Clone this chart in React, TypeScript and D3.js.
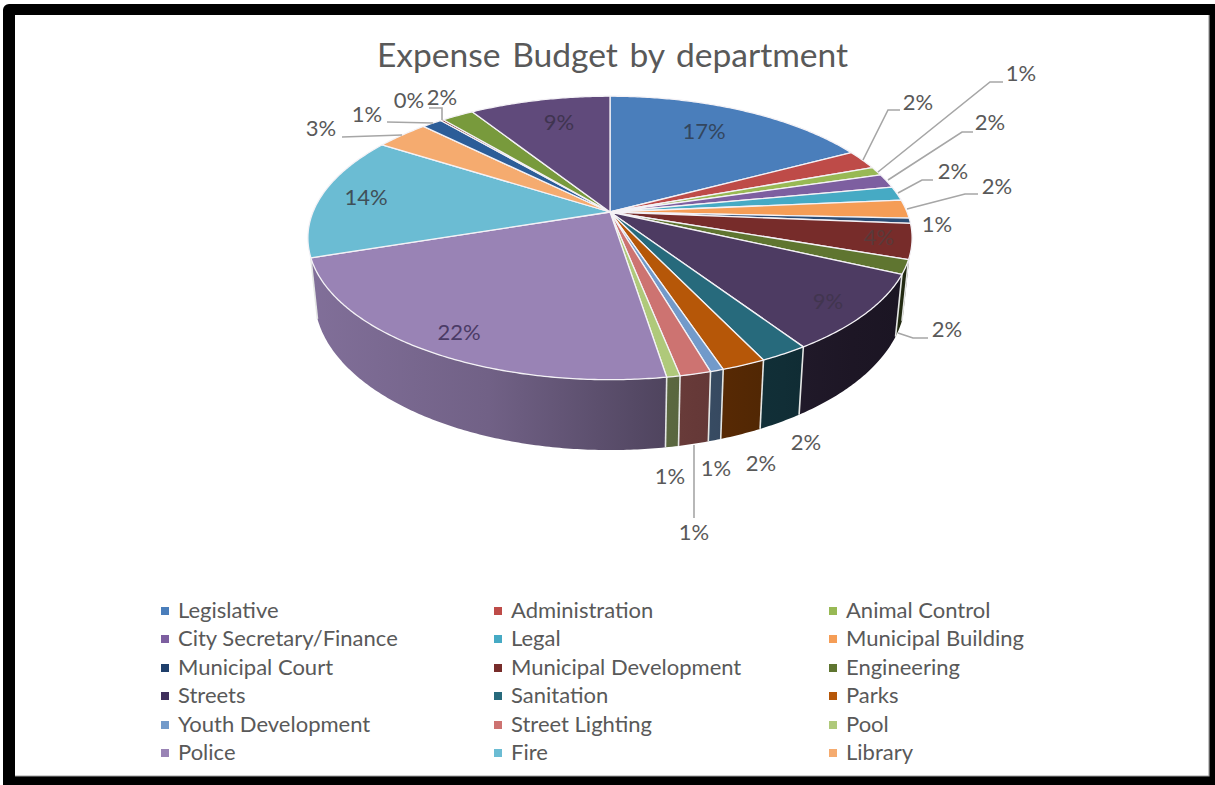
import React from "react";
import * as d3 from "d3";

// Budget shares, in percent, in drawing order clockwise from twelve o'clock.
// The legend names the first eighteen slices only.
const legendNames = [
  "Legislative", "Administration", "Animal Control", "City Secretary/Finance", "Legal",
  "Municipal Building", "Municipal Court", "Municipal Development", "Engineering", "Streets",
  "Sanitation", "Parks", "Youth Development", "Street Lighting", "Pool", "Police", "Fire", "Library",
];
const shares = [
  17.2, 2.2, 1.0, 1.6, 1.6, 2.1, 0.6, 4.0, 1.6, 8.8, 2.2, 2.0, 0.6, 1.4, 0.6, 22.4, 14.15, 3.4, 1.3, 0.2, 2.05, 9.0,
];
const sliceColors = [
  "#4A7EBB", "#BE4B48", "#98B954", "#7D5FA0", "#46AAC4", "#F59D56", "#2C4D75", "#772C2A", "#5F7530", "#4D3B62",
  "#276A7C", "#B65708", "#729ACA", "#CD7371", "#AFC97A", "#9983B5", "#6BBCD3", "#F5AB6F", "#2C5D98", "#772C2A",
  "#789A3C", "#604A7B",
];
const legendColors = [
  "#4A7EBB", "#BE4B48", "#98B954", "#7D5FA0", "#46AAC4", "#F59D56", "#1F3F6B", "#772C2A", "#5F7530", "#3F2F5C",
  "#276A7C", "#B65708", "#729ACA", "#CD7371", "#AFC97A", "#9983B5", "#6BBCD3", "#F5AB6F",
];

// Label placement per slice: text centre, optional leader polyline, ink colour.
type Spot = { x: number; y: number; leader?: [number, number][]; ink?: string };
const labelSpots: Spot[] = [
  { x: 704, y: 132, ink: "#33465E" },
  { x: 918, y: 103, leader: [[863, 160], [888, 110], [900, 110]] },
  { x: 1021, y: 74, leader: [[878, 172], [990, 82], [1003, 82]] },
  { x: 990, y: 123, leader: [[888, 180], [962, 132], [973, 132]] },
  { x: 953, y: 172, leader: [[898, 193], [922, 180], [933, 180]] },
  { x: 997, y: 187, leader: [[907, 209], [965, 194], [978, 194]] },
  { x: 937, y: 225 },
  { x: 879, y: 238, ink: "#5A3A3A" },
  { x: 947, y: 330, leader: [[898, 333], [913, 338], [928, 338]] },
  { x: 828, y: 302, ink: "#41354F" },
  { x: 806, y: 443 },
  { x: 761, y: 464 },
  { x: 716, y: 469 },
  { x: 694, y: 533, leader: [[694, 445], [694, 518]] },
  { x: 670, y: 477 },
  { x: 459, y: 333, ink: "#4B3B66" },
  { x: 366, y: 198, ink: "#3F4F58" },
  { x: 321, y: 129, leader: [[342, 137], [402, 135]] },
  { x: 367, y: 115, leader: [[387, 122], [433, 123]] },
  { x: 409, y: 101 },
  { x: 442, y: 98, leader: [[429, 108], [442, 108], [442, 120]] },
  { x: 559, y: 123, ink: "#3F3450" },
];

const legendColumns = [165, 498, 833];
const legendRows = [611, 639, 668, 696, 725, 753];

// Perspective disc: apex, radii, foreshortening and rim depth.
const apexX = 610;
const apexY = 212;
const radiusX = 297;
const radiusY = 137;
const tilt = 0.183;
const rimDepth = 57.5;
const rimShrink = 0.978;
const wallFrom = (108 * Math.PI) / 180;
const wallTo = (251.7 * Math.PI) / 180;

const scaleAt = (a: number) => 1 / (1 + tilt * Math.cos(a));
const topPoint = (a: number): [number, number] => {
  const s = scaleAt(a);
  return [apexX + radiusX * Math.sin(a) * s, apexY - radiusY * Math.cos(a) * s];
};
const basePoint = (a: number): [number, number] => {
  const s = scaleAt(a);
  return [
    apexX + radiusX * Math.sin(a) * s * rimShrink,
    apexY - radiusY * Math.cos(a) * s + rimDepth * s,
  ];
};
const arcSamples = (a0: number, a1: number) => {
  const n = Math.max(2, Math.ceil(Math.abs(a1 - a0) / 0.01));
  return d3.range(n + 1).map((i) => a0 + ((a1 - a0) * i) / n);
};

// Side wall brightness falls off from left to right across the rim.
const shade = d3.scaleLinear().domain([315, 480, 665, 800, 895]).range([0.84, 0.69, 0.52, 0.42, 0.36]);
const line = d3.line();
const arcs = d3.pie<number>().sort(null).startAngle(0).endAngle(2 * Math.PI)(shares);

const darken = (hex: string, f: number) => {
  const c = d3.rgb(hex);
  return d3.rgb(c.r * f, c.g * f, c.b * f).formatHex();
};

const fontFamily = "Lato, Carlito, sans-serif";

export default function App() {
  const walls = arcs
    .map((arc, i) => ({
      i,
      a0: Math.max(arc.startAngle, wallFrom),
      a1: Math.min(arc.endAngle, wallTo),
    }))
    .filter((w) => w.a1 > w.a0);

  return (
    <svg
      width={1215}
      height={785}
      viewBox="0 0 1215 785"
      style={{ position: "absolute", left: 0, top: 0, display: "block", background: "#fff" }}
      fontFamily={fontFamily}
    >
      <defs>
        {walls.map((w) => (
          <linearGradient
            key={w.i}
            id={`wall-${w.i}`}
            gradientUnits="userSpaceOnUse"
            x1={topPoint(w.a0)[0]}
            x2={topPoint(w.a1)[0]}
            y1={0}
            y2={0}
          >
            <stop offset="0" stopColor={darken(sliceColors[w.i], shade(topPoint(w.a0)[0]))} />
            <stop offset="0.5" stopColor={darken(sliceColors[w.i], shade(topPoint((w.a0 + w.a1) / 2)[0]))} />
            <stop offset="1" stopColor={darken(sliceColors[w.i], shade(topPoint(w.a1)[0]))} />
          </linearGradient>
        ))}
      </defs>

      {/* Side walls of the disc */}
      {walls.map((w) => {
        const samples = arcSamples(w.a0, w.a1);
        const rim = [...samples.map(topPoint), ...samples.slice().reverse().map(basePoint)];
        return <path key={w.i} d={`${line(rim)}Z`} fill={`url(#wall-${w.i})`} />;
      })}
      {walls.slice(1).map((w) => (
        <path key={w.i} d={line([topPoint(w.a0), basePoint(w.a0)]) ?? ""} stroke="#E4E6E4" strokeWidth={1.6} fill="none" />
      ))}

      {/* Top face */}
      {arcs.map((arc, i) => {
        const outline: [number, number][] = [[apexX, apexY], ...arcSamples(arc.startAngle, arc.endAngle).map(topPoint)];
        return (
          <path
            key={i}
            d={`${line(outline)}Z`}
            fill={sliceColors[i]}
            stroke="#F4F2F6"
            strokeWidth={1.3}
            strokeLinejoin="round"
          />
        );
      })}

      {/* Leader lines and percentage labels */}
      {labelSpots.map((spot, i) =>
        spot.leader ? (
          <path key={i} d={line(spot.leader) ?? ""} fill="none" stroke="#A6A6A6" strokeWidth={1.6} />
        ) : null
      )}
      {labelSpots.map((spot, i) => (
        <text
          key={i}
          x={spot.x}
          y={spot.y - 2}
          textAnchor="middle"
          dominantBaseline="central"
          fontSize={22}
          fill={spot.ink ?? "#595959"}
        >
          {`${Math.round(shares[i])}%`}
        </text>
      ))}

      <text x={612.5} y={54} textAnchor="middle" dominantBaseline="central" fontSize={33.6} fill="#595959" wordSpacing={3}>
        Expense Budget by department
      </text>

      {/* Legend: three columns, six rows */}
      {legendNames.map((name, i) => {
        const col = legendColumns[i % 3];
        const row = legendRows[Math.floor(i / 3)];
        return (
          <g key={name}>
            <rect x={col - 4} y={row - 4} width={8} height={8} fill={legendColors[i]} />
            <text x={col + 13} y={row - 2} dominantBaseline="central" fontSize={22} fill="#595959">
              {name}
            </text>
          </g>
        );
      })}

      {/* Heavy black frame */}
      <path
        d="M9 4H1215V785H3V10A6 6 0 0 1 9 4ZM15 15V776H1209V15Z"
        fill="#000"
        fillRule="evenodd"
      />
      <path d="M15 776H1209V15" fill="none" stroke="#A0A0A0" strokeWidth={1.2} />
    </svg>
  );
}
